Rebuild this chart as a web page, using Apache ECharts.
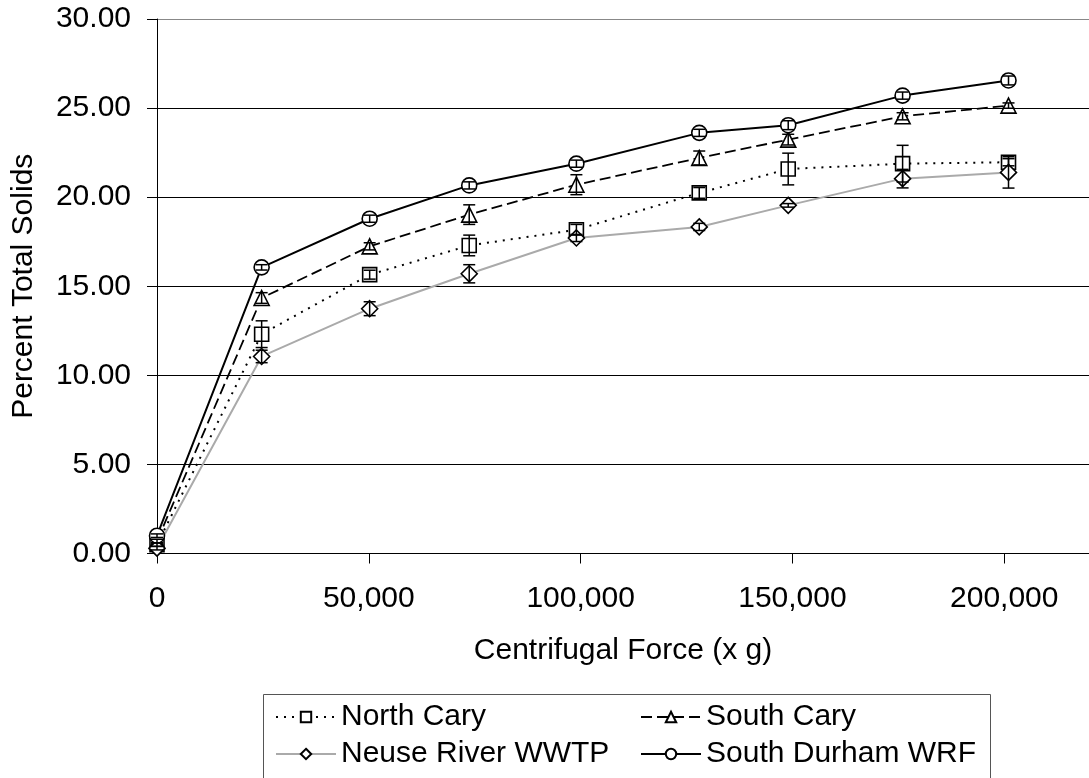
<!DOCTYPE html>
<html>
<head>
<meta charset="utf-8">
<script src="https://cdn.jsdelivr.net/npm/echarts@6/dist/echarts.min.js"></script>
<style>
  html, body { margin: 0; padding: 0; background: #fff; }
  #chart { width: 1089px; height: 778px; }
</style>
</head>
<body>
<div id="chart"></div>
<script>
// Centrifugal force applied (x g) at each test step
const force = [0, 24700, 50200, 73700, 99000, 128000, 149000, 176000, 201000];

// Percent total solids per site, with +/- error
const northCary      = [0.5, 12.31, 15.65, 17.29, 18.17, 20.24, 21.58, 21.88, 21.96];
const northCaryErr   = [0.1, 0.75, 0.25, 0.58, 0.30, 0.30, 0.89, 1.03, 0.20];
const southCary      = [0.7, 14.34, 17.24, 19.02, 20.70, 22.20, 23.23, 24.54, 25.14];
const southCaryErr   = [0.1, 0.30, 0.20, 0.55, 0.56, 0.39, 0.30, 0.20, 0.15];
const neuseRiver     = [0.3, 11.06, 13.74, 15.70, 17.71, 18.33, 19.54, 21.04, 21.39];
const neuseRiverErr  = [0.1, 0.35, 0.39, 0.51, 0.20, 0.20, 0.10, 0.52, 0.88];
const southDurham    = [1.0, 16.06, 18.79, 20.66, 21.88, 23.61, 24.04, 25.70, 26.55];
const southDurhamErr = [0.1, 0.15, 0.20, 0.20, 0.20, 0.20, 0.25, 0.20, 0.25];

// Axis ticks
const xTicks = [0, 50000, 100000, 150000, 200000];
const yTicks = [0, 5, 10, 15, 20, 25, 30];

const FONT = "'Liberation Sans', Arial, sans-serif";
const FS = 30;

function pairs(values) {
  return force.map((x, i) => [x, values[i]]);
}

function lineSeries(name, values, symbol, size, lineStyle) {
  return {
    type: 'line',
    name: name,
    data: pairs(values),
    symbol: symbol,
    symbolSize: size,
    showAllSymbol: true,
    lineStyle: lineStyle,
    itemStyle: { color: '#fff', borderColor: '#000', borderWidth: 1.6 },
    z: 3
  };
}

function errorSeries(values, errs) {
  return {
    type: 'custom',
    name: '',
    data: force.map((x, i) => [x, values[i] - errs[i], values[i] + errs[i]]),
    encode: { x: 0, y: [1, 2] },
    silent: true,
    z: 5,
    renderItem: function (params, api) {
      const lo = api.coord([api.value(0), api.value(1)]);
      const hi = api.coord([api.value(0), api.value(2)]);
      const half = 6;
      const style = { stroke: '#000', lineWidth: 1.5 };
      return {
        type: 'group',
        children: [
          { type: 'line', shape: { x1: lo[0], y1: lo[1], x2: hi[0], y2: hi[1] }, style: style },
          { type: 'line', shape: { x1: lo[0] - half, y1: lo[1], x2: lo[0] + half, y2: lo[1] }, style: style },
          { type: 'line', shape: { x1: hi[0] - half, y1: hi[1], x2: hi[0] + half, y2: hi[1] }, style: style }
        ]
      };
    }
  };
}

const legendCommon = {
  orient: 'vertical',
  top: 697,
  itemWidth: 60,
  itemHeight: 13,
  itemGap: 7,
  textStyle: { fontFamily: FONT, fontSize: FS, color: '#000' },
  selectedMode: false
};

const chart = echarts.init(document.getElementById('chart'), null, { renderer: 'canvas' });

chart.setOption({
  animation: false,
  backgroundColor: '#fff',
  grid: { left: 157, top: 19, width: 935, height: 534.5, containLabel: false },
  xAxis: {
    type: 'value',
    min: 0,
    max: 220000,
    interval: 50000,
    name: 'Centrifugal Force (x g)',
    nameLocation: 'middle',
    nameGap: 82,
    nameTextStyle: { fontFamily: FONT, fontSize: FS, color: '#000' },
    axisLine: { show: true, onZero: false, lineStyle: { color: '#000', width: 1 } },
    axisTick: { show: true, length: 10, customValues: xTicks, lineStyle: { color: '#000' } },
    axisLabel: {
      margin: 30,
      customValues: xTicks,
      fontFamily: FONT, fontSize: FS, color: '#000',
      formatter: v => xTicks.includes(v) ? v.toLocaleString('en-US') : ''
    },
    splitLine: { show: false }
  },
  yAxis: {
    type: 'value',
    min: 0,
    max: 30,
    interval: 5,
    name: 'Percent Total Solids',
    nameLocation: 'middle',
    nameGap: 118,
    nameRotate: 90,
    nameTextStyle: { fontFamily: FONT, fontSize: FS, color: '#000' },
    axisLine: { show: true, lineStyle: { color: '#000', width: 1 } },
    axisTick: { show: true, length: 10, lineStyle: { color: '#000' } },
    axisLabel: {
      margin: 26,
      fontFamily: FONT, fontSize: FS, color: '#000',
      formatter: v => yTicks.includes(v) ? v.toFixed(2) : ''
    },
    splitLine: {
      show: true,
      lineStyle: { color: ['#000', '#000', '#000', '#000', '#000', '#000', '#888'], width: 1 }
    }
  },
  legend: [
    Object.assign({}, legendCommon, { left: 270, data: ['North Cary', 'Neuse River WWTP'] }),
    Object.assign({}, legendCommon, { left: 635, data: ['South Cary', 'South Durham WRF'] })
  ],
  graphic: [{
    type: 'rect',
    left: 261,
    top: 692,
    shape: { width: 727, height: 84 },
    style: { fill: 'none', stroke: '#555', lineWidth: 1 },
    z: -1
  }],
  series: [
    lineSeries('North Cary', northCary, 'rect', 14,
      { color: '#000', width: 2, type: [2, 6] }),
    lineSeries('South Cary', southCary, 'triangle', 15,
      { color: '#000', width: 1.8, type: [11, 5] }),
    lineSeries('Neuse River WWTP', neuseRiver, 'diamond', 16,
      { color: '#aaa', width: 2, type: 'solid' }),
    lineSeries('South Durham WRF', southDurham, 'circle', 15,
      { color: '#000', width: 2, type: 'solid' }),
    errorSeries(northCary, northCaryErr),
    errorSeries(southCary, southCaryErr),
    errorSeries(neuseRiver, neuseRiverErr),
    errorSeries(southDurham, southDurhamErr)
  ]
});
</script>
</body>
</html>
